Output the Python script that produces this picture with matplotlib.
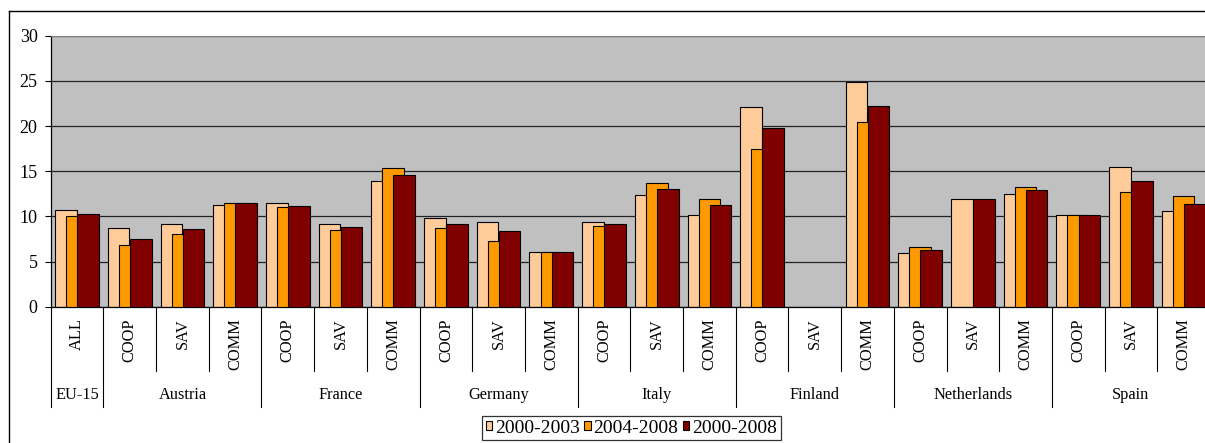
import matplotlib
matplotlib.use("Agg")
import matplotlib.pyplot as plt
import matplotlib.transforms as mtransforms
from matplotlib.patches import Patch
from matplotlib.lines import Line2D
import numpy as np

plt.rcParams['font.family'] = ['Liberation Serif', 'DejaVu Serif']

# data
groups = ["EU-15", "Austria", "France", "Germany", "Italy", "Finland", "Netherlands", "Spain"]
group_sizes = [1, 3, 3, 3, 3, 3, 3, 3]
categories = ["ALL",
              "COOP", "SAV", "COMM",
              "COOP", "SAV", "COMM",
              "COOP", "SAV", "COMM",
              "COOP", "SAV", "COMM",
              "COOP", "SAV", "COMM",
              "COOP", "SAV", "COMM",
              "COOP", "SAV", "COMM"]
nan = np.nan
p2000_2003 = [10.7, 8.7, 9.2, 11.3, 11.5, 9.1, 13.9, 9.8, 9.4, 6.1, 9.4, 12.4, 10.2,
              22.1, nan, 24.9, 6.0, 11.9, 12.5, 10.2, 15.5, 10.6]
p2004_2008 = [10.0, 6.8, 8.0, 11.5, 11.0, 8.5, 15.3, 8.7, 7.3, 6.1, 8.9, 13.7, 11.9,
              17.5, nan, 20.5, 6.6, nan, 13.3, 10.2, 12.7, 12.2]
p2000_2008 = [10.3, 7.5, 8.6, 11.5, 11.2, 8.8, 14.6, 9.2, 8.4, 6.1, 9.2, 13.0, 11.3,
              19.8, nan, 22.2, 6.3, 11.9, 12.9, 10.2, 13.9, 11.4]
series = [("2000-2003", p2000_2003, "#FFCC99"),
          ("2004-2008", p2004_2008, "#FF9900"),
          ("2000-2008", p2000_2008, "#800000")]

W, H = 1205, 443
fig = plt.figure(figsize=(W / 100, H / 100), dpi=100)

# plot area in pixels: left 50.7, right ~1210 (cut off), top 35.7, zero line 306.7
left, right, top, bottom = 50.7, 1210.0, 35.7, 306.7
ax = fig.add_axes([left / W, 1 - bottom / H, (right - left) / W, (bottom - top) / H])
ax.set_facecolor("#C0C0C0")
ax.set_axisbelow(True)

x = np.arange(len(categories))
bw = 0.41
step = 0.21
for i, (name, vals, col) in enumerate(series):
    ax.bar(x + (i - 1) * step, vals, width=bw, color=col, edgecolor="black",
           linewidth=0.8, label=name, zorder=2 + i)

ax.set_xlim(-0.5, len(categories) - 0.5)
ax.set_ylim(0, 30)
ax.set_yticks(range(0, 31, 5))
ax.yaxis.grid(True, color="#222222", linewidth=0.9)
ax.tick_params(axis="y", direction="out", length=4.5, width=0.8, pad=5, labelsize=13)
ax.set_xticks([])
ax.spines["top"].set_color("#808080")
ax.spines["right"].set_visible(False)
ax.spines["left"].set_linewidth(0.9)
ax.spines["bottom"].set_linewidth(0.9)

trans = mtransforms.blended_transform_factory(ax.transData, ax.transAxes)
ph = bottom - top


def yfrac(py):
    return (bottom - py) / ph


# category labels, rotated
for xi, lab in zip(x, categories):
    ax.text(xi, yfrac(318.5), lab, rotation=90, ha="center", va="top",
            fontsize=11.8, transform=trans, clip_on=False)

# separators between categories and between groups
bounds = np.cumsum([0] + group_sizes) - 0.5
for b in np.arange(-0.5, len(categories) + 0.5):
    if b in bounds:
        y_end = yfrac(407.3)
    else:
        y_end = yfrac(371)
    ax.plot([b, b], [0, y_end], color="black", linewidth=0.8, transform=trans,
            clip_on=False)

for g, s, b in zip(groups, group_sizes, bounds[:-1]):
    ax.text(b + s / 2, yfrac(395), g, ha="center", va="center", fontsize=11.8,
            transform=trans, clip_on=False)

# outer frame of the chart (right and bottom lie outside the image)
fx0 = 8.5 / W
fy1 = 1 - 10.5 / H
fig.add_artist(Line2D([fx0, fx0], [-0.1, fy1], color="black", linewidth=1.0,
                      transform=fig.transFigure))
fig.add_artist(Line2D([fx0, 1.1], [fy1, fy1], color="black", linewidth=1.0,
                      transform=fig.transFigure))

handles = [Patch(facecolor=c, edgecolor="black", linewidth=0.8) for _, _, c in series]
labels = [n for n, _, _ in series]
leg = fig.legend(handles, labels, loc="upper left",
                 bbox_to_anchor=(482.3 / W, 1 - 415.7 / H), ncol=3, fontsize=14,
                 frameon=True, fancybox=False, edgecolor="black",
                 handlelength=0.32, handleheight=0.32, handletextpad=0.15,
                 columnspacing=0.22, borderpad=0.2, borderaxespad=0)
leg.get_frame().set_linewidth(0.9)

fig.savefig("out.png", dpi=100)
